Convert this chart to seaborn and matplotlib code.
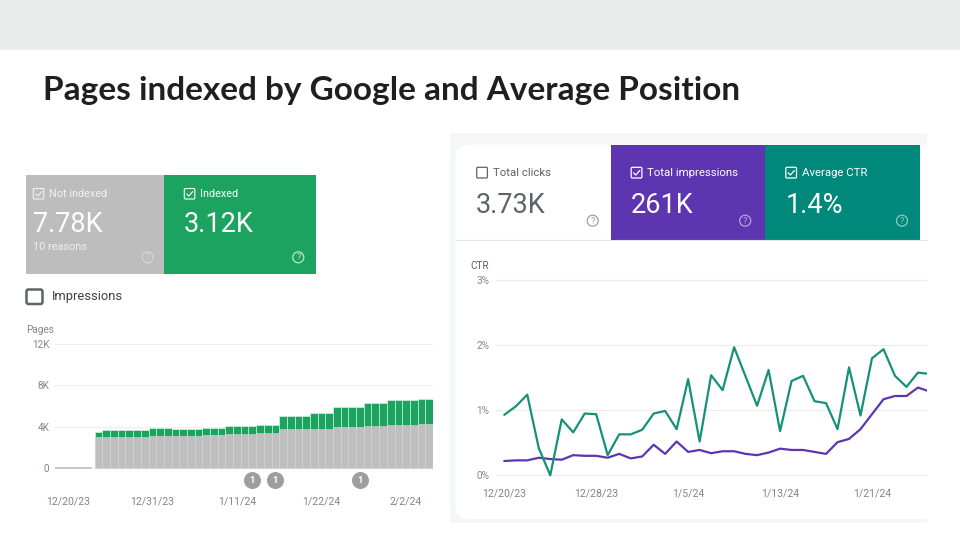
import matplotlib
matplotlib.use("Agg")
import matplotlib.pyplot as plt
import matplotlib.patches as mpatches
from matplotlib.transforms import IdentityTransform
from matplotlib.lines import Line2D
import numpy as np
import pandas as pd
import seaborn as sns

# ------------------------------------------------------------------ data
title = "Pages indexed by Google and Average Position"

# Left: page indexing report (pages per day, 12/18/23 .. 2/5/24)
index_start = "2023-12-18"
not_indexed = [0, 0, 0, 0, 0, 0,
               2990, 2990, 2990, 2990, 2990, 2990, 2990,
               3090, 3090, 3090, 3090, 3090, 3090, 3090,
               3190, 3190, 3190,
               3280, 3280, 3280, 3280,
               3350, 3350, 3350,
               3770, 3770, 3770, 3770, 3770, 3770, 3770,
               3930, 3930, 3930, 3930,
               4100, 4100, 4100,
               4200, 4200, 4200, 4200,
               4290, 4290]
indexed = [0, 0, 0, 0, 0, 0,
           490, 650, 650, 650, 650, 650, 650,
           750, 750, 750, 650, 650, 650, 650,
           710, 710, 710,
           750, 750, 750, 750,
           780, 780, 780,
           1270, 1270, 1270, 1270, 1560, 1560, 1560,
           1990, 1990, 1990, 1990,
           2140, 2140, 2140,
           2400, 2400, 2400, 2400,
           2380, 2380]
index_ticks = ["2023-12-20", "2023-12-31", "2024-01-11", "2024-01-22", "2024-02-02"]
index_tick_labels = ["12/20/23", "12/31/23", "1/11/24", "1/22/24", "2/2/24"]
index_y_ticks = [0, 4000, 8000, 12000]
index_y_labels = ["0", "4K", "8K", "12K"]
issue_dates = ["2024-01-13", "2024-01-16", "2024-01-27"]
issue_counts = ["1", "1", "1"]

index_card_labels = ["Not indexed", "Indexed"]
index_card_values = ["7.78K", "3.12K"]
index_card_notes = ["10 reasons", ""]

# Right: performance report (12/20/23 .. 1/26/24)
perf_start = "2023-12-20"
ctr = [0.93, 1.06, 1.24, 0.42, 0.00, 0.86, 0.66, 0.95, 0.94, 0.31,
       0.63, 0.63, 0.70, 0.95, 0.99, 0.71, 1.48, 0.52, 1.54, 1.31,
       1.97, 1.52, 1.07, 1.62, 0.68, 1.45, 1.53, 1.14, 1.11, 0.71,
       1.66, 0.92, 1.80, 1.94, 1.53, 1.36, 1.58, 1.56]
impressions_line = [0.22, 0.23, 0.23, 0.27, 0.25, 0.24, 0.31, 0.30, 0.30, 0.27,
                    0.33, 0.26, 0.29, 0.47, 0.33, 0.52, 0.36, 0.39, 0.34, 0.37,
                    0.37, 0.33, 0.31, 0.35, 0.41, 0.39, 0.39, 0.36, 0.33, 0.51,
                    0.56, 0.71, 0.94, 1.17, 1.22, 1.22, 1.35, 1.29]
perf_ticks = ["2023-12-20", "2023-12-28", "2024-01-05", "2024-01-13", "2024-01-21"]
perf_tick_labels = ["12/20/23", "12/28/23", "1/5/24", "1/13/24", "1/21/24"]
perf_y_ticks = [0, 1, 2, 3]
perf_y_labels = ["0%", "1%", "2%", "3%"]

perf_card_labels = ["Total clicks", "Total impressions", "Average CTR"]
perf_card_values = ["3.73K", "261K", "1.4%"]
perf_card_checked = [False, True, True]

# ------------------------------------------------------------------ style
sns.set_style("white")
plt.rcParams["font.family"] = ["Roboto", "DejaVu Sans"]

W, H = 960, 540
GREEN = "#1BA35F"
GRAY_BAR = "#BFBFBF"
PURPLE = "#5E35B1"
TEAL = "#00897B"
TEAL_LINE = "#15917A"
TICK = "#80868B"

fig = plt.figure(figsize=(W / 100, H / 100), dpi=100)
fig.patch.set_facecolor("white")
PX = IdentityTransform()


def rect(x0, y0, x1, y1, color, z=-5, **kw):
    fig.add_artist(mpatches.Rectangle((x0, H - y1), x1 - x0, y1 - y0, transform=PX,
                                      facecolor=color, edgecolor="none", zorder=z, **kw))


def rrect(x0, y0, x1, y1, color, r, z=-4, ec="none", lw=0):
    fig.add_artist(mpatches.FancyBboxPatch((x0 + r, H - y1 + r), x1 - x0 - 2 * r, y1 - y0 - 2 * r,
                                           boxstyle=f"round,pad={r}", transform=PX,
                                           facecolor=color, edgecolor=ec, lw=lw, zorder=z))


def text(x, y, s, **kw):
    return fig.text(x / W, 1 - y / H, s, **kw)


def checkbox(x0, y0, size, color, checked, lw=0.9):
    rrect(x0, y0, x0 + size, y0 + size, "none", r=1.2, z=2, ec=color, lw=lw)
    if checked:
        xs = [x0 + 0.22 * size, x0 + 0.43 * size, x0 + 0.80 * size]
        ys = [y0 + 0.52 * size, y0 + 0.72 * size, y0 + 0.30 * size]
        fig.add_artist(Line2D(xs, [H - v for v in ys], transform=PX, color=color, lw=lw, zorder=3))


def help_icon(cx, cy, color):
    fig.add_artist(mpatches.Circle((cx, H - cy), 5.5, transform=PX, facecolor="none",
                                   edgecolor=color, lw=0.9, zorder=3))
    text(cx, cy + 0.3, "?", color=color, fontsize=6.5, ha="center", va="center")


# ------------------------------------------------------------------ slide
rect(0, 0, W, 50, "#E8ECEB")
t = text(43, 100, title, fontsize=22, fontweight="bold", color="#1F1F1F",
         va="baseline", ha="left", family=["Lato", "DejaVu Sans"])
fig.canvas.draw()
wpx = t.get_window_extent().width
t.set_fontsize(22 * 697 / wpx)

# ------------------------------------------------------------------ left cards
rect(26, 175, 164, 274, "#BDBDBD")
rect(164, 175, 316, 274, GREEN)
card_x = [33.3, 184.3]
label_colors = ["#F2F2F2", "#FFFFFF"]
help_colors = ["#D6D6D6", "#BFE3CF"]
help_x = [147.7, 298.3]
for i in range(2):
    checkbox(card_x[i], 188.5, 10.5, label_colors[i], True, lw=0.8)
    text(card_x[i] + 16, 193.5, index_card_labels[i], color=label_colors[i], fontsize=7.8, va="center")
    text(card_x[i] - 0.5, 232.3, index_card_values[i], color="white", fontsize=19.5,
         va="baseline")
    if index_card_notes[i]:
        text(card_x[i], 250.5, index_card_notes[i], color="#F0F0F0", fontsize=7.8, va="baseline")
    help_icon(help_x[i], 257.3, help_colors[i])

rrect(26.5, 289.5, 42.5, 304, "none", r=2, z=2, ec="#5F6368", lw=1.8)
text(51.7, 296.7, "Impressions", color="#3C4043", fontsize=9.3, va="center")
text(26, 330, "Pages", color=TICK, fontsize=7.2, va="center")

# ------------------------------------------------------------------ left chart
ax1 = fig.add_axes([55 / W, 1 - 470 / H, (433 - 55) / W, 130 / H])
ax1.set_facecolor("none")
base = pd.Timestamp("2023-12-20")
idx_days = (pd.date_range(index_start, periods=len(indexed), freq="D") - base).days.to_numpy()
total = np.array(not_indexed) + np.array(indexed)
df_idx = pd.DataFrame({"day": idx_days, "total": total, "not_indexed": not_indexed})

bars = df_idx[df_idx.total > 0]
zeros = df_idx[df_idx.total == 0]
sns.barplot(data=bars, x="day", y="total", native_scale=True, width=1, color=GREEN,
            saturation=1, edgecolor="#E9F5EE", linewidth=0.4, errorbar=None, ax=ax1)
sns.barplot(data=bars, x="day", y="not_indexed", native_scale=True, width=1, color=GRAY_BAR,
            saturation=1, edgecolor="#D8D8D8", linewidth=0.4, errorbar=None, ax=ax1)
sns.lineplot(data=zeros, x="day", y="total", color="#BDBDBD", lw=1.2, ax=ax1, drawstyle="steps-mid")
ax1.set_xlim(-1.66, 47.5)
ax1.set_ylim(-210, 12390)
ax1.set_yticks(index_y_ticks, index_y_labels)
ax1.set_xticks((pd.to_datetime(index_ticks) - base).days, index_tick_labels)
ax1.yaxis.grid(True, color="#EEEEEE", lw=0.8)
ax1.set_axisbelow(True)
ax1.tick_params(axis="y", length=0, pad=4, labelsize=7.2, labelcolor=TICK)
ax1.tick_params(axis="x", length=0, pad=19, labelsize=7.6, labelcolor=TICK)
ax1.set_xlabel("")
ax1.set_ylabel("")
for s in ax1.spines.values():
    s.set_visible(False)

issue_x = (pd.to_datetime(issue_dates) - base).days
ax1.scatter(issue_x, [-0.08] * len(issue_x), s=150, color="#9E9E9E", zorder=5,
            transform=ax1.get_xaxis_transform(), clip_on=False, linewidths=0)
for xv, c in zip(issue_x, issue_counts):
    ax1.text(xv, -0.08, c, transform=ax1.get_xaxis_transform(), ha="center", va="center",
             color="white", fontsize=6.8, fontweight="bold", zorder=6, clip_on=False)

# ------------------------------------------------------------------ right panel
rect(450, 133, 927, 523, "#F4F6F8", z=-6)
rrect(455.5, 144.5, 940, 519, "white", r=13, z=-5)
rect(940, 133, W, 540, "white", z=-4)
rect(610.5, 144.5, 765, 239.5, PURPLE, z=-3)
rect(765, 144.5, 920, 239.5, TEAL, z=-3)
fig.add_artist(Line2D([456, 927], [H - 240, H - 240], transform=PX, color="#E6E6E6", lw=0.8, zorder=-2))

perf_x = [476.7, 631.2, 785.8]
perf_help_x = [592.7, 745.2, 902]
perf_label_colors = ["#5F6368", "white", "white"]
perf_help_colors = ["#9AA0A6", "#B7A3DC", "#8ACCC2"]
for i in range(3):
    checkbox(perf_x[i], 167.3, 10.7, perf_label_colors[i], perf_card_checked[i], lw=0.9)
    text(perf_x[i] + 16, 172.5, perf_card_labels[i], color=perf_label_colors[i], fontsize=8.2, va="center")
    text(perf_x[i] - 0.5, 212.7, perf_card_values[i], color=perf_label_colors[i], fontsize=19.5,
         va="baseline")
    help_icon(perf_help_x[i], 220.7, perf_help_colors[i])

text(470.5, 265.7, "CTR", color="#5F6368", fontsize=7.2, va="center")

ax2 = fig.add_axes([496 / W, 1 - 480 / H, (926.7 - 496) / W, 210 / H])
ax2.set_facecolor("none")
pbase = pd.Timestamp(perf_start)
p_days = np.arange(len(ctr))
df_perf = pd.DataFrame({"day": p_days, "ctr": ctr, "impr": impressions_line})
sns.lineplot(data=df_perf, x="day", y="impr", color=PURPLE, lw=1.6, ax=ax2)
sns.lineplot(data=df_perf, x="day", y="ctr", color=TEAL_LINE, lw=1.6, ax=ax2)
ax2.set_xlim(-0.72, 36.76)
ax2.set_ylim(-0.072, 3.158)
ax2.set_yticks(perf_y_ticks, perf_y_labels)
ax2.set_xticks((pd.to_datetime(perf_ticks) - pbase).days, perf_tick_labels)
ax2.yaxis.grid(True, color="#ECECEC", lw=0.8)
ax2.set_axisbelow(True)
ax2.tick_params(axis="y", length=0, pad=4.8, labelsize=7.2, labelcolor=TICK)
ax2.tick_params(axis="x", length=0, pad=6, labelsize=7.6, labelcolor=TICK)
ax2.set_xlabel("")
ax2.set_ylabel("")
for s in ax2.spines.values():
    s.set_visible(False)

fig.savefig("out.png", dpi=100, facecolor="white")
